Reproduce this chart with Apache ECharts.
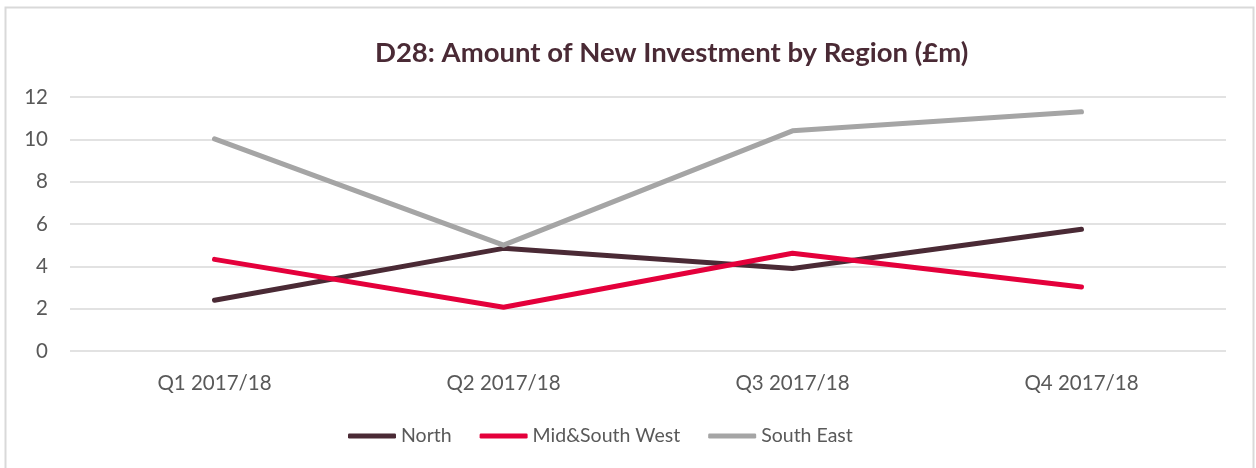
<!DOCTYPE html>
<html>
<head>
<meta charset="utf-8">
<script src="https://cdn.jsdelivr.net/npm/echarts@6/dist/echarts.min.js"></script>
<style>
  html, body { margin: 0; padding: 0; background: #fff; }
  #chart { width: 1256px; height: 468px; }
</style>
</head>
<body>
<div id="chart"></div>
<script>
// 季度分类
const quarters = ["Q1 2017/18", "Q2 2017/18", "Q3 2017/18", "Q4 2017/18"];
// 各区域数据 (£m)
const north = [2.4, 4.85, 3.9, 5.75];
const midSouthWest = [4.33, 2.07, 4.62, 3.02];
const southEast = [10.02, 5.0, 10.4, 11.3];
const yTicks = [0, 2, 4, 6, 8, 10, 12];

const seriesNames = ["North", "Mid&South West", "South East"];
const seriesColors = ["#4a2a35", "#e4003b", "#a5a5a5"];
const seriesData = [north, midSouthWest, southEast];

const font = "Lato, 'Open Sans', sans-serif";
let chart = echarts.init(document.getElementById("chart"), null, { renderer: "canvas" });

chart.setOption({
    backgroundColor: "#fff",
    animation: false,
    title: {
        text: "D28: Amount of New Investment by Region (£m)",
        left: 370,
        top: 34,
        textStyle: { fontFamily: font, fontSize: 27.5, fontWeight: "bold", color: "#4a2a35" }
    },
    graphic: [{
        type: "rect",
        shape: { x: 5.5, y: 7.5, width: 1248, height: 480 },
        style: { fill: "none", stroke: "#d9d9d9", lineWidth: 2 },
        silent: true
    }],
    legend: {
        data: seriesNames,
        bottom: 17,
        left: 343,
        itemWidth: 48,
        itemHeight: 5,
        itemGap: 28,
        icon: "roundRect",
        textStyle: { fontFamily: font, fontSize: 19.5, color: "#595959" }
    },
    grid: { left: 70, right: 30, top: 97, bottom: 117 },
    xAxis: {
        type: "category",
        data: quarters,
        boundaryGap: true,
        axisLine: { show: false },
        axisTick: { show: false },
        axisLabel: { fontFamily: font, fontSize: 20.5, color: "#595959", margin: 22 }
    },
    yAxis: {
        type: "value",
        min: yTicks[0],
        max: yTicks[yTicks.length - 1],
        interval: 2,
        axisLine: { show: false },
        axisTick: { show: false },
        axisLabel: { fontFamily: font, fontSize: 20.5, color: "#595959", margin: 22 },
        splitLine: { lineStyle: { color: "#d9d9d9", width: 1.5 } }
    },
    series: seriesNames.map((name, idx) => ({
        name: name,
        type: "line",
        data: seriesData[idx],
        symbol: "none",
        color: seriesColors[idx],
        lineStyle: { color: seriesColors[idx], width: 5, cap: "round", join: "round" }
    }))
});

window.addEventListener("resize", function () {
    chart.resize();
});
</script>
</body>
</html>
